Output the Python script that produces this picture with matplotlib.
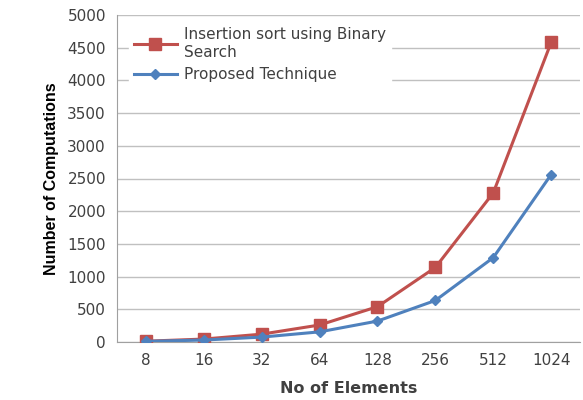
import numpy as np
import matplotlib.pyplot as plt

# datos
elementos = ["8", "16", "32", "64", "128", "256", "512", "1024"]
insercion_binaria = [12, 45, 120, 260, 540, 1140, 2280, 4580]
propuesta = [10, 30, 75, 155, 320, 635, 1290, 2560]

rojo = "#C0504D"
azul = "#4F81BD"
gris = "#404040"

fig = plt.figure(figsize=(5.83, 4.0), dpi=100)
ax = fig.add_axes([0.2007, 0.145, 0.7943, 0.8175])

x = np.arange(len(elementos))
ax.plot(x, insercion_binaria, color=rojo, lw=2.2, marker="s", ms=8,
        label="Insertion sort using Binary\nSearch", zorder=3)
ax.plot(x, propuesta, color=azul, lw=2.2, marker="D", ms=5,
        label="Proposed Technique", zorder=3)

ax.set_xlim(-0.5, len(elementos) - 0.5)
ax.set_ylim(0, 5000)
ax.set_yticks(np.arange(0, 5001, 500))
ax.set_xticks(x)
ax.set_xticklabels(elementos)
ax.tick_params(length=0, labelsize=11, labelcolor=gris, pad=8)
ax.tick_params(axis="y", pad=8)
ax.grid(axis="y", color="#c0c0c0", lw=1)
ax.set_axisbelow(True)
for s in ["top", "right"]:
    ax.spines[s].set_visible(False)
ax.spines["left"].set_color("#a0a0a0")
ax.spines["bottom"].set_color("#a0a0a0")

ax.set_xlabel("No of Elements", fontsize=11.5, fontweight="bold", color=gris, labelpad=9)
ax.set_ylabel("Number of Computations", fontsize=11.5, fontweight="bold",
              family=["DejaVu Sans Condensed", "Liberation Sans Narrow", "Liberation Sans"],
              labelpad=6)

leg = ax.legend(loc="upper left", bbox_to_anchor=(0.01, 1.0), fontsize=11,
                frameon=True, fancybox=False, edgecolor="white", framealpha=1,
                handlelength=2.8, handletextpad=0.5, labelspacing=0.5, borderpad=0.3)
for t in leg.get_texts():
    t.set_color(gris)

plt.savefig("out.png", dpi=100)
